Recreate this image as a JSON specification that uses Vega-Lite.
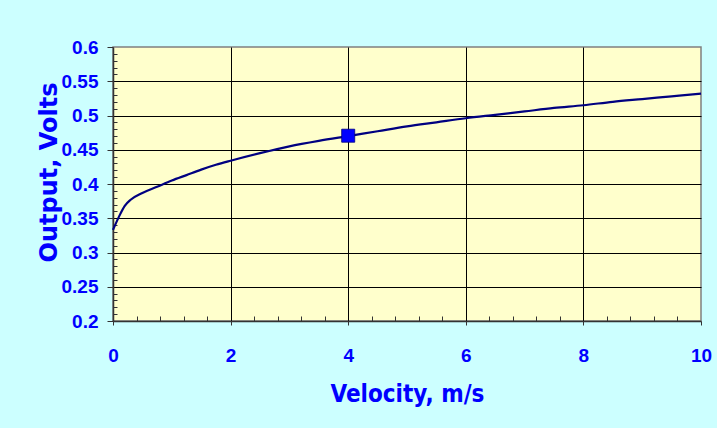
{
  "$schema": "https://vega.github.io/schema/vega-lite/v6.json",
  "width": 588,
  "height": 274,
  "autosize": {"type": "none"},
  "padding": {"left": 113, "top": 47, "right": 16, "bottom": 107},
  "background": "#CCFFFF",
  "config": {
    "view": {"fill": "#FFFFCC", "stroke": "#808080", "strokeWidth": 1.5},
    "axis": {
      "labelFont": "Liberation Sans, Arial, sans-serif",
      "labelFontWeight": "bold",
      "labelFontSize": 19,
      "labelColor": "#0000FF",
      "titleColor": "#0000FF",
      "titleFontWeight": "bold",
      "domainColor": "#333333",
      "domainWidth": 1.5,
      "tickColor": "#333333",
      "tickWidth": 1,
      "gridColor": "#000000",
      "gridWidth": 1
    }
  },
  "datasets": {
    "curve": [
      {"velocity": 0, "output": 0.333},
      {"velocity": 0.1, "output": 0.352},
      {"velocity": 0.2, "output": 0.368},
      {"velocity": 0.3, "output": 0.377},
      {"velocity": 0.5, "output": 0.387},
      {"velocity": 0.75, "output": 0.396},
      {"velocity": 1, "output": 0.405},
      {"velocity": 1.25, "output": 0.413},
      {"velocity": 1.5, "output": 0.421},
      {"velocity": 1.75, "output": 0.428},
      {"velocity": 2, "output": 0.434},
      {"velocity": 2.5, "output": 0.445},
      {"velocity": 3, "output": 0.455},
      {"velocity": 3.5, "output": 0.463},
      {"velocity": 4, "output": 0.47},
      {"velocity": 4.5, "output": 0.477},
      {"velocity": 5, "output": 0.484},
      {"velocity": 5.5, "output": 0.49},
      {"velocity": 6, "output": 0.496},
      {"velocity": 6.5, "output": 0.501},
      {"velocity": 7, "output": 0.506},
      {"velocity": 7.5, "output": 0.511},
      {"velocity": 8, "output": 0.515},
      {"velocity": 8.5, "output": 0.52},
      {"velocity": 9, "output": 0.524},
      {"velocity": 9.5, "output": 0.528},
      {"velocity": 10, "output": 0.532}
    ],
    "point": [
      {"velocity": 4, "output": 0.4705}
    ]
  },
  "layer": [
    {
      "data": {"name": "curve"},
      "mark": {"type": "line", "color": "#000080", "strokeWidth": 2.2, "interpolate": "monotone"},
      "encoding": {
        "x": {
          "field": "velocity",
          "type": "quantitative",
          "scale": {"domain": [0, 10], "nice": false, "zero": false},
          "axis": {
            "title": "Velocity, m/s",
            "titleFont": "DejaVu Sans Condensed, DejaVu Sans, sans-serif",
            "titleFontSize": 24,
            "titleBaseline": "alphabetic",
            "titleY": 80,
            "tickCount": 200,
            "values": [0, 0.4, 0.8, 1.2, 1.6, 2, 2.4, 2.8, 3.2, 3.6, 4, 4.4, 4.8, 5.2, 5.6, 6, 6.4, 6.8, 7.2, 7.6, 8, 8.4, 8.8, 9.2, 9.6, 10],
            "labelExpr": "abs(datum.value/2 - round(datum.value/2)) < 0.000001 ? format(datum.value, 'd') : ''",
            "labelPadding": 21,
            "labelFlush": false,
            "labelOverlap": false,
            "grid": true,
            "gridOpacity": {"condition": {"test": "abs(datum.value/2 - round(datum.value/2)) < 0.000001 && datum.value > 0.01 && datum.value < 9.99", "value": 1}, "value": 0},
            "tickSize": {"condition": {"test": "abs(datum.value/2 - round(datum.value/2)) < 0.000001", "value": 4}, "value": -5}
          }
        },
        "y": {
          "field": "output",
          "type": "quantitative",
          "scale": {"domain": [0.2, 0.6], "nice": false, "zero": false},
          "axis": {
            "title": "Output, Volts",
            "titleFont": "DejaVu Sans, sans-serif",
            "titleFontSize": 24,
            "titleBaseline": "alphabetic",
            "titleX": -57,
            "titleY": 125,
            "tickCount": 200,
            "values": [0.2, 0.21, 0.22, 0.23, 0.24, 0.25, 0.26, 0.27, 0.28, 0.29, 0.3, 0.31, 0.32, 0.33, 0.34, 0.35, 0.36, 0.37, 0.38, 0.39, 0.4, 0.41, 0.42, 0.43, 0.44, 0.45, 0.46, 0.47, 0.48, 0.49, 0.5, 0.51, 0.52, 0.53, 0.54, 0.55, 0.56, 0.57, 0.58, 0.59, 0.6],
            "labelExpr": "abs(datum.value*20 - round(datum.value*20)) < 0.000001 ? format(datum.value, '.2~f') : ''",
            "labelPadding": 9,
            "labelFlush": false,
            "labelOverlap": false,
            "grid": true,
            "gridOpacity": {"condition": {"test": "abs(datum.value*20 - round(datum.value*20)) < 0.000001 && datum.value > 0.201 && datum.value < 0.599", "value": 1}, "value": 0},
            "tickSize": {"condition": {"test": "abs(datum.value*20 - round(datum.value*20)) < 0.000001", "value": 6}, "value": -4}
          }
        }
      }
    },
    {
      "data": {"name": "point"},
      "mark": {"type": "point", "shape": "square", "filled": true, "size": 170, "color": "#0000FF", "stroke": "#000080", "strokeWidth": 0.8, "opacity": 1},
      "encoding": {
        "x": {"field": "velocity", "type": "quantitative"},
        "y": {"field": "output", "type": "quantitative"}
      }
    }
  ]
}
